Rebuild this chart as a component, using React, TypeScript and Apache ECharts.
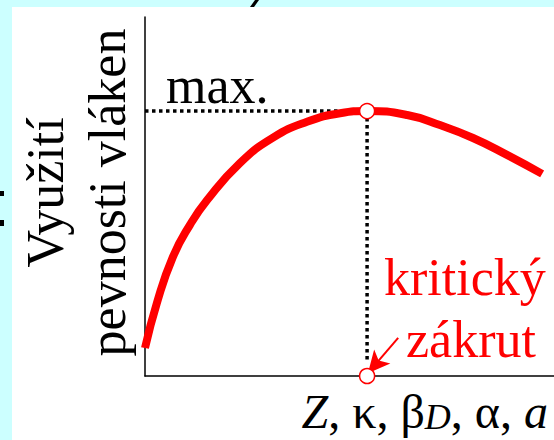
import React, { useEffect, useRef } from "react";
import * as echarts from "echarts";

// Curve: fibre strength utilisation vs. twist (axis units 0..100)
const curveX = [0, 2.9, 6.8, 11.0, 15.2, 23.2, 31.3, 39.6, 47.7, 54.3, 64.1, 72.1, 80.2, 88.5, 97.1];
const curveY = [7.8, 20.3, 33.1, 42.1, 49.0, 59.3, 66.4, 70.8, 73.2, 73.8, 72.7, 69.9, 66.3, 61.6, 56.3];
const peakPoint = [54.3, 73.8];
const criticalPoint = [54.3, 0];
const dottedBottom = 3.6;
const arrowTail = [61.9, 10.6];
const arrowTip = [54.5, 0.8];

const yTitleLines = ["Využití", "pevnosti vláken"];
const maxLabel = "max.";
const criticalLabel = ["kritický", "zákrut"];
const xTitleRich = "{i|Z}{r|, κ, β}{s|D}{r|, α, }{i|a}";

const SERIF = "Liberation Serif";
const RED = "#ff0000";
const CYAN = "#ccffff";

export default function App() {
  const ref = useRef<HTMLDivElement>(null);
  useEffect(() => {
    if (!ref.current) return;
    const chart = echarts.init(ref.current, undefined, { renderer: "svg" });
    const curveData = curveX.map((x, i) => [x, curveY[i]]);
    const dotted = {
      type: "line",
      symbol: "none",
      z: 1,
      silent: true,
      lineStyle: { color: "#000", width: 3.5, type: "dotted" },
    };
    const txt = (text: string, x: number, y: number, fill: string, size: number, extra: any = {}) => ({
      type: "text",
      x,
      y,
      ...extra,
      style: {
        text,
        fill,
        fontFamily: SERIF,
        fontSize: size,
        align: extra.align || "left",
        verticalAlign: "middle",
      },
    });
    chart.setOption({
      animation: false,
      backgroundColor: "#ffffff",
      textStyle: { fontFamily: SERIF },
      grid: { left: 145, right: 0, top: 17, bottom: 64, containLabel: false },
      xAxis: {
        type: "value",
        min: 0,
        max: 100,
        axisLine: { show: true, lineStyle: { color: "#000", width: 1.5 } },
        axisTick: { show: false },
        axisLabel: { show: false },
        splitLine: { show: false },
      },
      yAxis: {
        type: "value",
        min: 0,
        max: 100,
        axisLine: { show: true, lineStyle: { color: "#000", width: 1.5 } },
        axisTick: { show: false },
        axisLabel: { show: false },
        splitLine: { show: false },
      },
      series: [
        { ...dotted, data: [[0, peakPoint[1]], [peakPoint[0], peakPoint[1]]] },
        { ...dotted, data: [[peakPoint[0], peakPoint[1]], [peakPoint[0], dottedBottom]] },
        {
          type: "line",
          data: curveData,
          smooth: 0.5,
          symbol: "none",
          z: 3,
          lineStyle: { color: RED, width: 8 },
        },
        {
          type: "scatter",
          data: [peakPoint, criticalPoint],
          clip: false,
          symbol: "circle",
          symbolSize: 15,
          z: 5,
          itemStyle: { color: "#ffffff", borderColor: RED, borderWidth: 1.5, opacity: 1 },
        },
        {
          type: "line",
          data: [],
          z: 6,
          markLine: {
            silent: true,
            label: { show: false },
            symbolSize: [16, 22],
            lineStyle: { color: RED, width: 2, type: "solid" },
            data: [
              [
                { coord: arrowTail, symbol: "none" },
                { coord: arrowTip, symbol: "arrow" },
              ],
            ],
          },
        },
      ],
      graphic: [
        { type: "rect", shape: { x: 0, y: 0, width: 554, height: 7 }, style: { fill: CYAN } },
        { type: "rect", shape: { x: 0, y: 0, width: 12, height: 440 }, style: { fill: CYAN } },
        { type: "polygon", shape: { points: [[255, 0], [259, 0], [254, 7], [250, 7]] }, style: { fill: "#000" } },
        { type: "rect", shape: { x: 0, y: 191, width: 4, height: 5 }, style: { fill: "#000" } },
        { type: "rect", shape: { x: 0, y: 220, width: 4, height: 6 }, style: { fill: "#000" } },
        txt(yTitleLines[0], 45.5, 192.5, "#000", 52, { rotation: Math.PI / 2, align: "center" }),
        txt(yTitleLines[1], 107.5, 192.5, "#000", 52, { rotation: Math.PI / 2, align: "center" }),
        txt(maxLabel, 166, 85.5, "#000", 52),
        txt(criticalLabel[0], 384, 277.5, RED, 52),
        txt(criticalLabel[1], 406, 339.5, RED, 52),
        {
          type: "text",
          x: 548,
          y: 411,
          style: {
            text: xTitleRich,
            align: "right",
            verticalAlign: "middle",
            fill: "#000",
            fontFamily: SERIF,
            fontSize: 48,
            rich: {
              i: { fontFamily: SERIF, fontSize: 48, fontStyle: "italic", fill: "#000", verticalAlign: "bottom" },
              r: { fontFamily: SERIF, fontSize: 48, fontStyle: "normal", fill: "#000", verticalAlign: "bottom" },
              s: { fontFamily: SERIF, fontSize: 36, fontStyle: "italic", fill: "#000", verticalAlign: "bottom" },
            },
          },
        },
      ],
    });
    return () => chart.dispose();
  }, []);
  return (
    <div
      ref={ref}
      style={{ position: "fixed", left: 0, top: 0, width: 554, height: 440 }}
    />
  );
}
